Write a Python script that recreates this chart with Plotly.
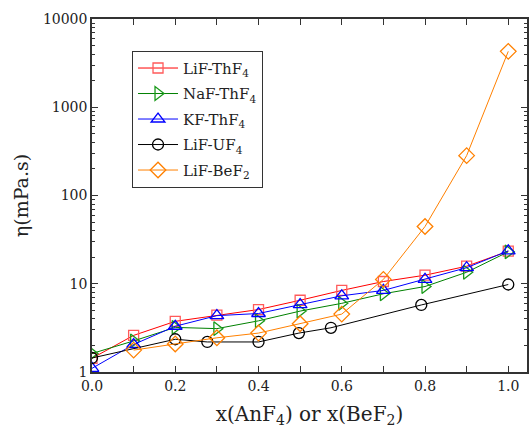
import plotly.graph_objects as go

x_std = [0.0, 0.1, 0.2, 0.3, 0.4, 0.5, 0.6, 0.7, 0.8, 0.9, 1.0]
lif_thf4 = [1.43, 2.6, 3.75, 4.4, 5.1, 6.5, 8.4, 10.6, 12.5, 15.8, 23.4]
naf_thf4 = [1.62, 2.25, 3.2, 3.1, 3.8, 4.9, 6.0, 7.7, 9.3, 13.5, 23.0]
kf_thf4 = [1.1, 2.05, 3.3, 4.35, 4.6, 5.8, 7.3, 8.4, 11.2, 15.2, 23.6]
x_uf4 = [0.0, 0.2, 0.277, 0.4, 0.497, 0.574, 0.791, 1.0]
lif_uf4 = [1.44, 2.35, 2.19, 2.19, 2.76, 3.17, 5.75, 9.8]
x_bef2 = [0.1, 0.2, 0.3, 0.4, 0.5, 0.6, 0.7, 0.8, 0.9, 1.0]
lif_bef2 = [1.77, 2.08, 2.44, 2.76, 3.52, 4.53, 11.2, 44.5, 283, 4300]

FONT = "DejaVu Serif"

series = [
    ("LiF-ThF<sub>4</sub>", x_std, lif_thf4, "#ff0000", "#ff5a5a", "square-open", 10),
    ("NaF-ThF<sub>4</sub>", x_std, naf_thf4, "#008000", "#1a9a1a", "triangle-right-open", 12),
    ("KF-ThF<sub>4</sub>", x_std, kf_thf4, "#0000ff", "#0000ff", "triangle-up-open", 12),
    ("LiF-UF<sub>4</sub>", x_uf4, lif_uf4, "#000000", "#000000", "circle-open", 11),
    ("LiF-BeF<sub>2</sub>", x_bef2, lif_bef2, "#ff8000", "#ff8000", "diamond-open", 12),
]

fig = go.Figure()
for i, (name, xs, ys, lc, mc, sym, sz) in enumerate(series):
    fig.add_trace(go.Scatter(
        x=xs, y=ys, name=name, mode="lines+markers", legendgroup=f"g{i}",
        line=dict(color=lc, width=1),
        marker=dict(symbol=sym, size=sz, color=mc, line=dict(color=mc, width=1.3)),
    ))

axis_common = dict(
    showline=True, linecolor="#333333", linewidth=1.5, mirror="ticks",
    ticks="inside", tickcolor="#333333", ticklen=6, tickwidth=1,
    showgrid=False, zeroline=False,
    tickfont=dict(family=FONT, size=14, color="#222222"),
)

fig.update_layout(
    width=530, height=434,
    margin=dict(l=92, r=1, t=19, b=62),
    paper_bgcolor="white", plot_bgcolor="white",
    font=dict(family=FONT, color="#222222"),
    xaxis=dict(
        range=[0, 1.045], dtick=0.2, tickformat=".1f",
        minor=dict(dtick=0.1, ticks="inside", ticklen=6, tickcolor="#333333"),
        title=dict(text="x(AnF<sub>4</sub>) or x(BeF<sub>2</sub>)", font=dict(family=FONT, size=20), standoff=14),
        **axis_common,
    ),
    yaxis=dict(
        type="log", range=[0, 4], dtick=1,
        tickvals=[1, 10, 100, 1000, 10000], ticktext=["1", "10", "100", "1000", "10000"],
        minor=dict(dtick="D1", ticks="inside", ticklen=3, tickcolor="#333333"),
        title=dict(text="η(mPa.s)", font=dict(family=FONT, size=19), standoff=9),
        **axis_common,
    ),
    showlegend=True,
    legend=dict(
        x=0.092, y=0.91, xanchor="left", yanchor="top",
        bgcolor="white", bordercolor="#333333", borderwidth=1,
        font=dict(family=FONT, size=15, color="#222222"),
        traceorder="grouped", tracegroupgap=3, itemwidth=40,
    ),
)

fig.write_html("out.html")
